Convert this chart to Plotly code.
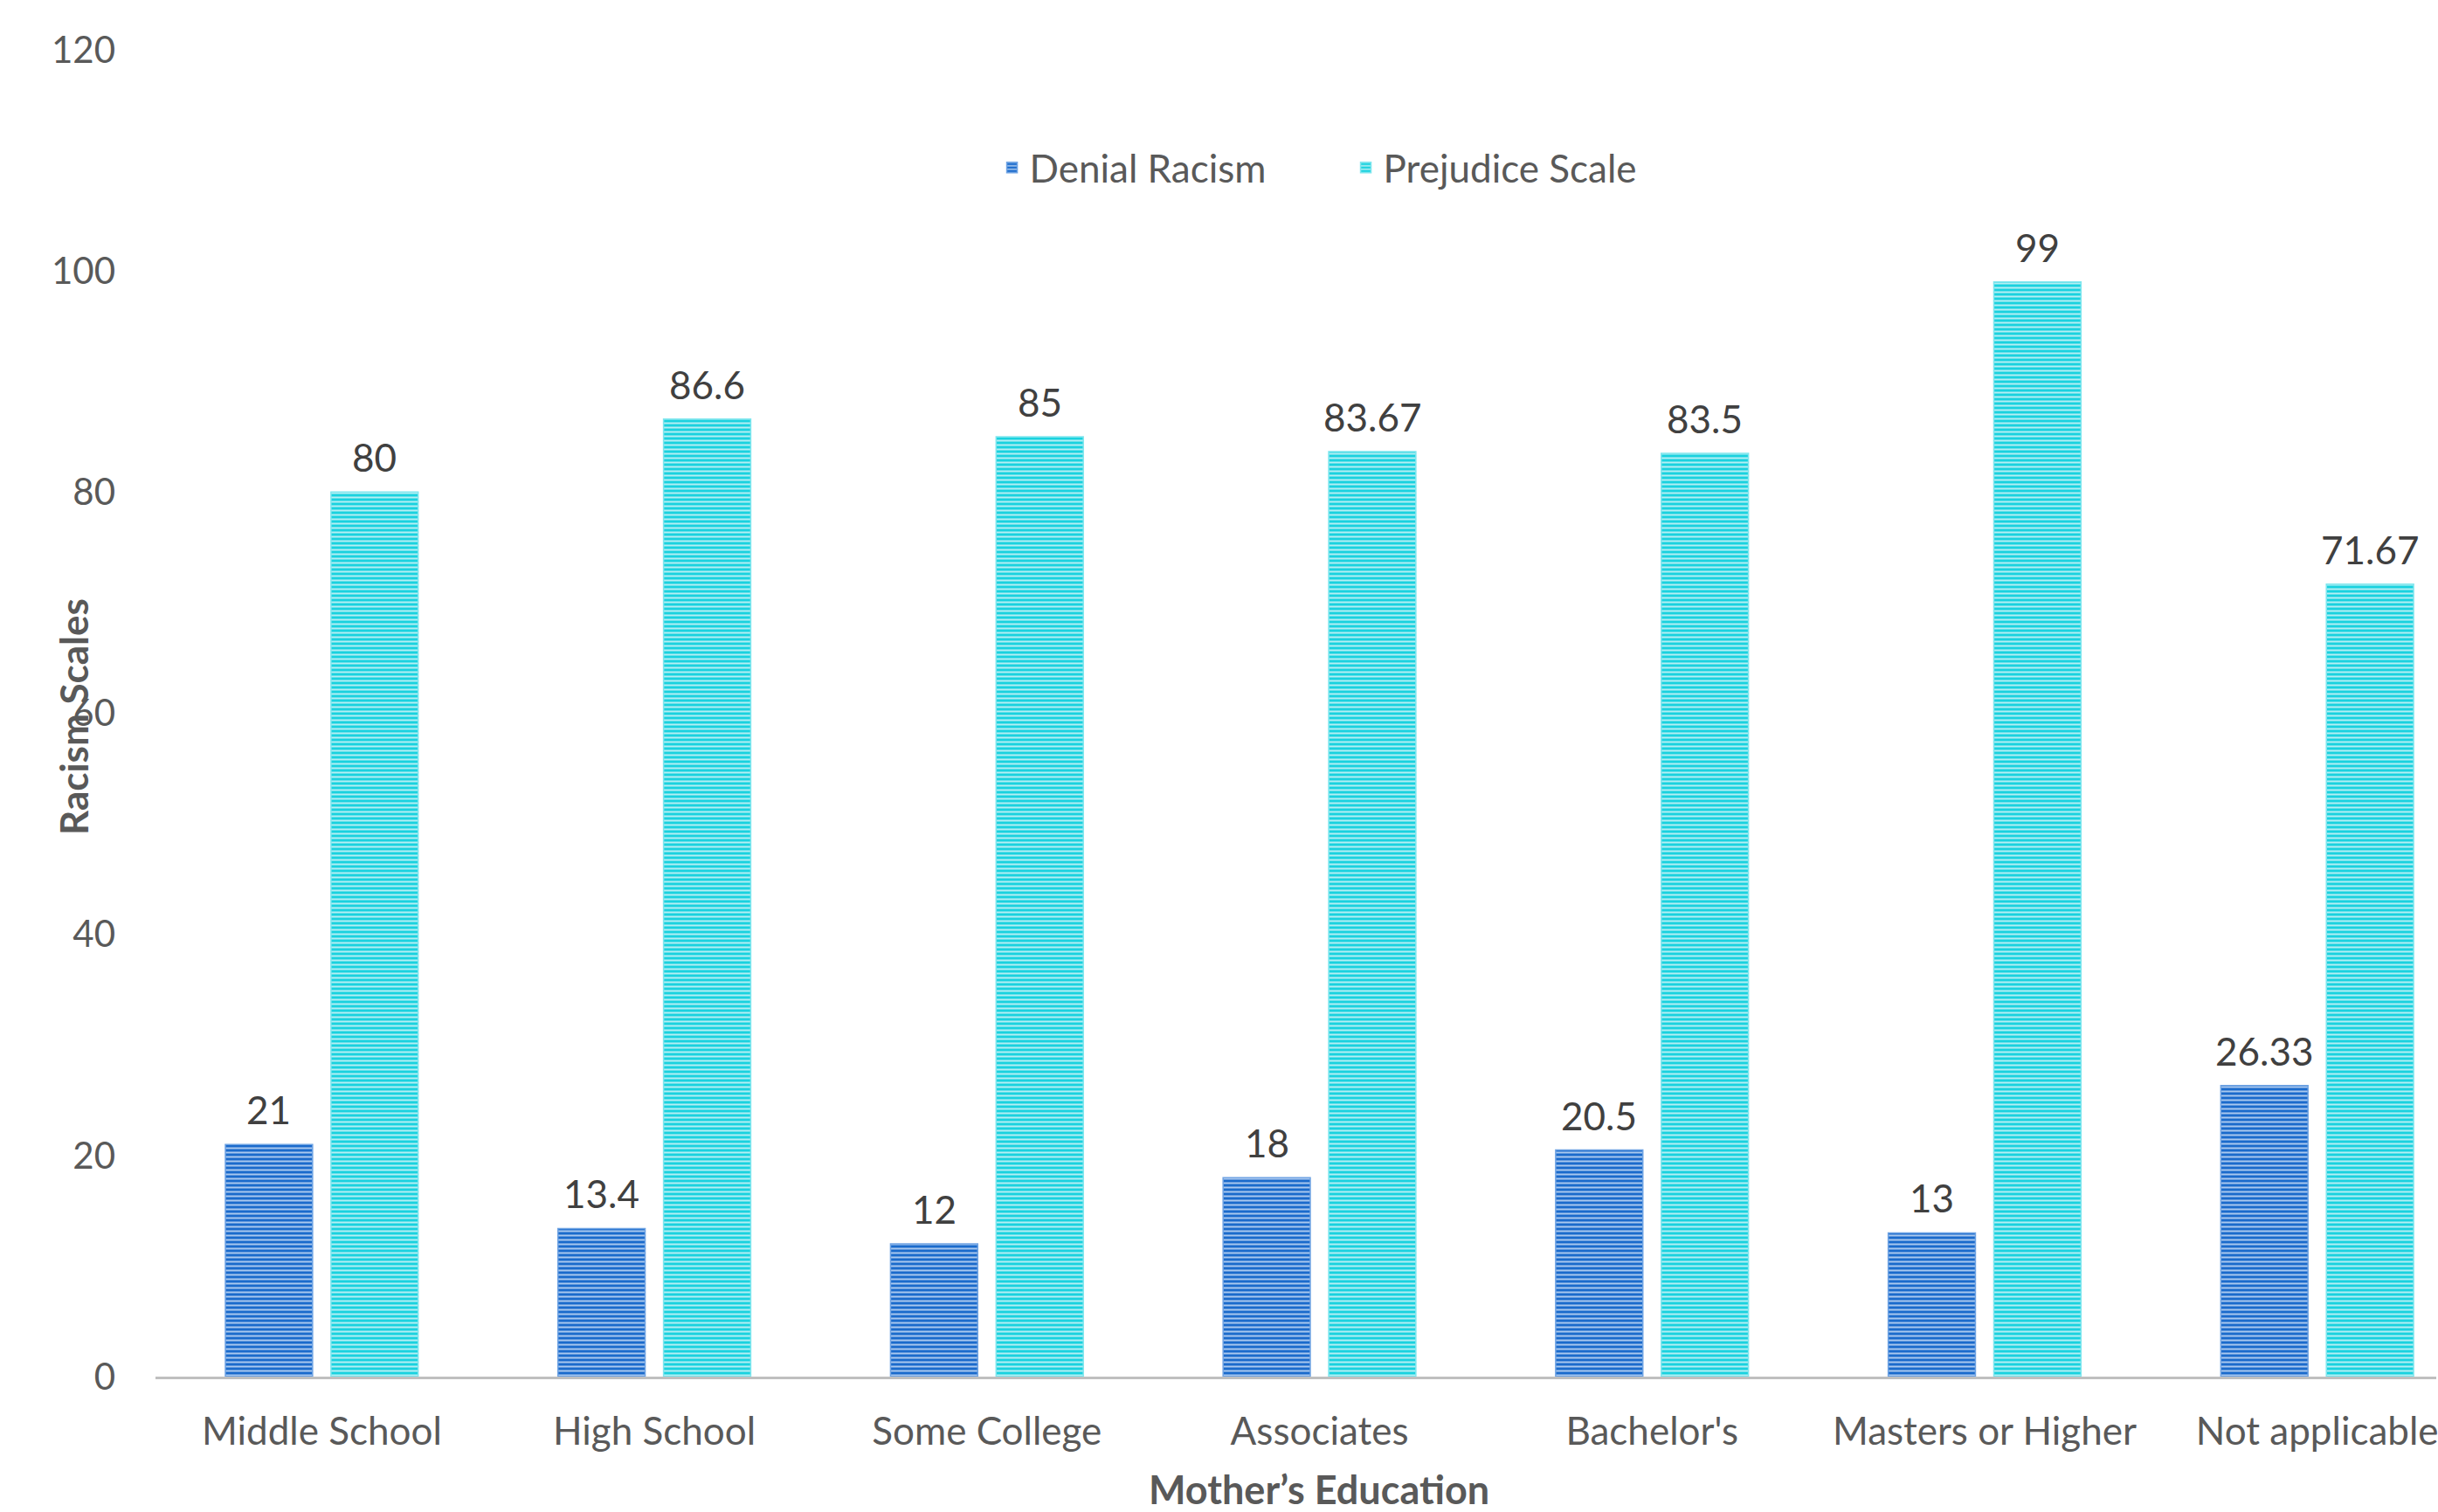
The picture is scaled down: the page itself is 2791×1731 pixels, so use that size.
import plotly.graph_objects as go

categories = ["Middle School", "High School", "Some College", "Associates",
              "Bachelor's", "Masters or Higher", "Not applicable"]
denial_racism = [21, 13.4, 12, 18, 20.5, 13, 26.33]
prejudice_scale = [80, 86.6, 85, 83.67, 83.5, 99, 71.67]
y_ticks = [0, 20, 40, 60, 80, 100, 120]

FONT = "Lato"
GREY = "#595959"
LABEL = "#404040"

BARGAP = 0.365
GROUPGAP = 0.174

fig = go.Figure()

fig.add_trace(go.Bar(
    name="Denial Racism",
    x=categories, y=denial_racism,
    marker=dict(
        color="#1B6BCC",
        line=dict(color="#6FA3E3", width=1.5),
        pattern=dict(shape="-", bgcolor="#1B6BCC", fgcolor="#A9C8EE",
                     size=5, solidity=0.4, fillmode="replace"),
    ),
))

fig.add_trace(go.Bar(
    name="Prejudice Scale",
    x=categories, y=prejudice_scale,
    marker=dict(
        color="#1AD2DF",
        line=dict(color="#7FE6EE", width=1.5),
        pattern=dict(shape="-", bgcolor="#1AD2DF", fgcolor="#B5EEF3",
                     size=5, solidity=0.4, fillmode="replace"),
    ),
))

# value labels above each bar, centred on its slot within the group
slot = (1 - BARGAP) / 2
for i in range(len(categories)):
    for offset, vals in ((-slot / 2, denial_racism), (slot / 2, prejudice_scale)):
        fig.add_annotation(
            x=i + offset, y=vals[i], xref="x", yref="y",
            text=f"{vals[i]:g}", showarrow=False,
            xanchor="center", yanchor="middle", yshift=40,
            font=dict(family=FONT, size=44, color=LABEL),
        )

fig.update_layout(
    width=2791, height=1731,
    margin=dict(l=178, r=0, t=57, b=155),
    paper_bgcolor="white", plot_bgcolor="white",
    barmode="group", bargap=BARGAP, bargroupgap=GROUPGAP,
    font=dict(family=FONT, size=44, color=GREY),
    showlegend=True,
    legend=dict(orientation="h", x=0.523, xanchor="center", y=0.911, yanchor="middle",
                font=dict(family=FONT, size=44, color=GREY),
                itemwidth=30, traceorder="normal", entrywidthmode="pixels", entrywidth=360),
)

fig.update_xaxes(
    range=[-0.5, 6.358],
    showline=True, linecolor="#BFBFBF", linewidth=3,
    showgrid=False, ticks="", zeroline=False,
    ticklabelstandoff=22,
    tickfont=dict(family=FONT, size=44, color=GREY),
)

fig.update_yaxes(
    range=[0, 120], tickvals=y_ticks,
    showline=False, showgrid=False, zeroline=False, ticks="",
    ticklabelstandoff=45,
    tickfont=dict(family=FONT, size=42, color=GREY),
)

# axis titles placed explicitly
fig.add_annotation(
    text="<b>Racism Scales</b>", xref="paper", yref="paper",
    x=-0.036, y=0.497, xanchor="center", yanchor="middle",
    textangle=-90, showarrow=False,
    font=dict(family=FONT, size=44, color=GREY),
)
fig.add_annotation(
    text="<b>Mother’s Education</b>", xref="paper", yref="paper",
    x=0.510, y=-0.085, xanchor="center", yanchor="middle",
    showarrow=False,
    font=dict(family=FONT, size=45, color=GREY),
)

fig.write_html("out.html")
